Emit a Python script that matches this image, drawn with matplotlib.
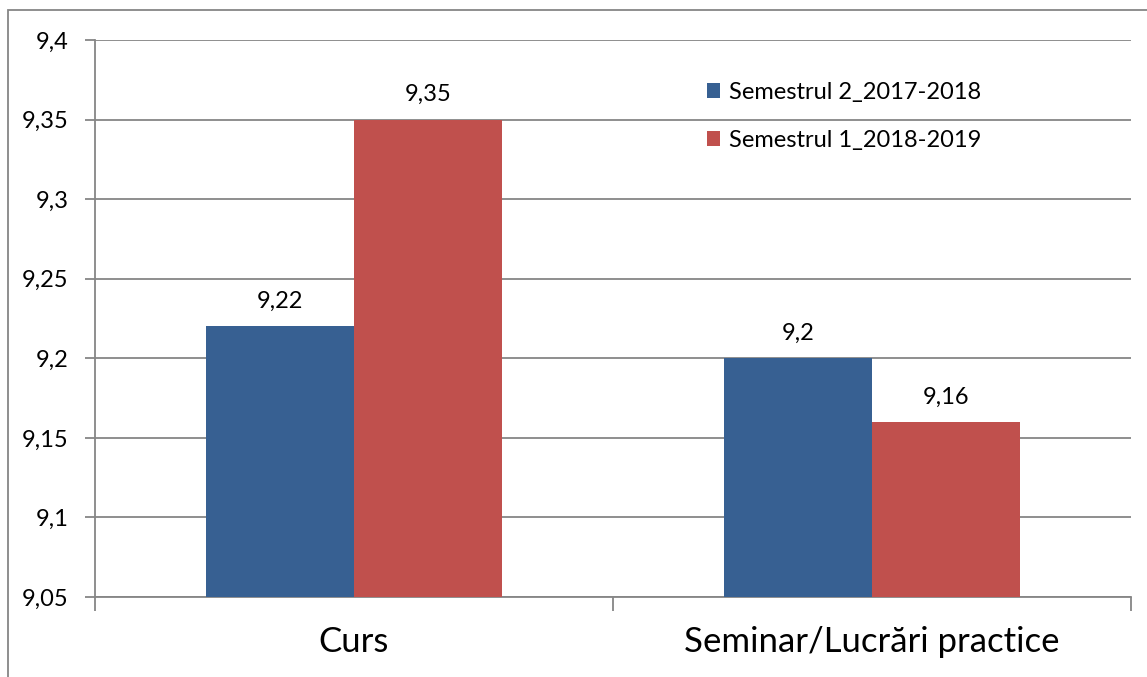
import matplotlib.pyplot as plt
import matplotlib.patches as mpatches
import numpy as np

categories = ['Curs', 'Seminar/Lucrări practice']
sem2_2017 = [9.22, 9.20]
sem1_2018 = [9.35, 9.16]
series_names = ['Semestrul 2_2017-2018', 'Semestrul 1_2018-2019']
yticks = [9.05, 9.1, 9.15, 9.2, 9.25, 9.3, 9.35, 9.4]

BLUE = '#376092'
RED = '#C0504D'
GRAY = '#868686'

plt.rcParams['font.family'] = ['Lato', 'DejaVu Sans']

def fmt(v):
    s = ('%.2f' % v).rstrip('0').rstrip('.')
    return s.replace('.', ',')

fig = plt.figure(figsize=(11.47, 6.77), dpi=100)
ax = fig.add_axes([95 / 1147, 1 - 597 / 677, (1131 - 95) / 1147, (597 - 40) / 677])

# outer chart border (only left/top visible in the crop)
fig.patches.append(mpatches.Rectangle((8 / 1147, -0.2), 1.2, 1.2 - 10 / 677,
                                      transform=fig.transFigure, fill=False,
                                      edgecolor=GRAY, linewidth=1.3))

x = np.arange(len(categories))
w = 0.286
ax.bar(x - w / 2, np.array(sem2_2017) - 9.05, w, bottom=9.05, color=BLUE, zorder=3,
       label=series_names[0])
ax.bar(x + w / 2, np.array(sem1_2018) - 9.05, w, bottom=9.05, color=RED, zorder=3,
       label=series_names[1])

for xs, vals in ((x - w / 2, sem2_2017), (x + w / 2, sem1_2018)):
    for xi, v in zip(xs, vals):
        ax.annotate(fmt(v), (xi, v), xytext=(0, 18), textcoords='offset points',
                    ha='center', va='center', fontsize=17)

ax.set_xlim(-0.5, 1.5)
ax.set_ylim(9.05, 9.4)
ax.set_yticks(yticks)
ax.set_yticklabels([fmt(t) for t in yticks], fontsize=17)
ax.yaxis.grid(True, color=GRAY, linewidth=1.3, zorder=0)
ax.set_axisbelow(True)

ax.set_xticks([-0.5, 0.5, 1.5])
ax.set_xticklabels([])
ax.set_xticks(x, minor=True)
ax.set_xticklabels(categories, minor=True, fontsize=25)
ax.tick_params(axis='x', which='major', length=10, width=1.3, color=GRAY)
ax.tick_params(axis='x', which='minor', length=0, pad=21)
ax.tick_params(axis='y', length=7, width=1.3, color=GRAY, pad=12)

for s in ('top', 'right'):
    ax.spines[s].set_visible(False)
for s in ('left', 'bottom'):
    ax.spines[s].set_color(GRAY)
    ax.spines[s].set_linewidth(1.3)

ax.legend(loc='upper left', bbox_to_anchor=(0.5815, 0.942), frameon=False, fontsize=17,
          handlelength=0.55, handleheight=0.55, handletextpad=0.4, labelspacing=1.15,
          borderaxespad=0)

fig.savefig('out.png', dpi=100)
